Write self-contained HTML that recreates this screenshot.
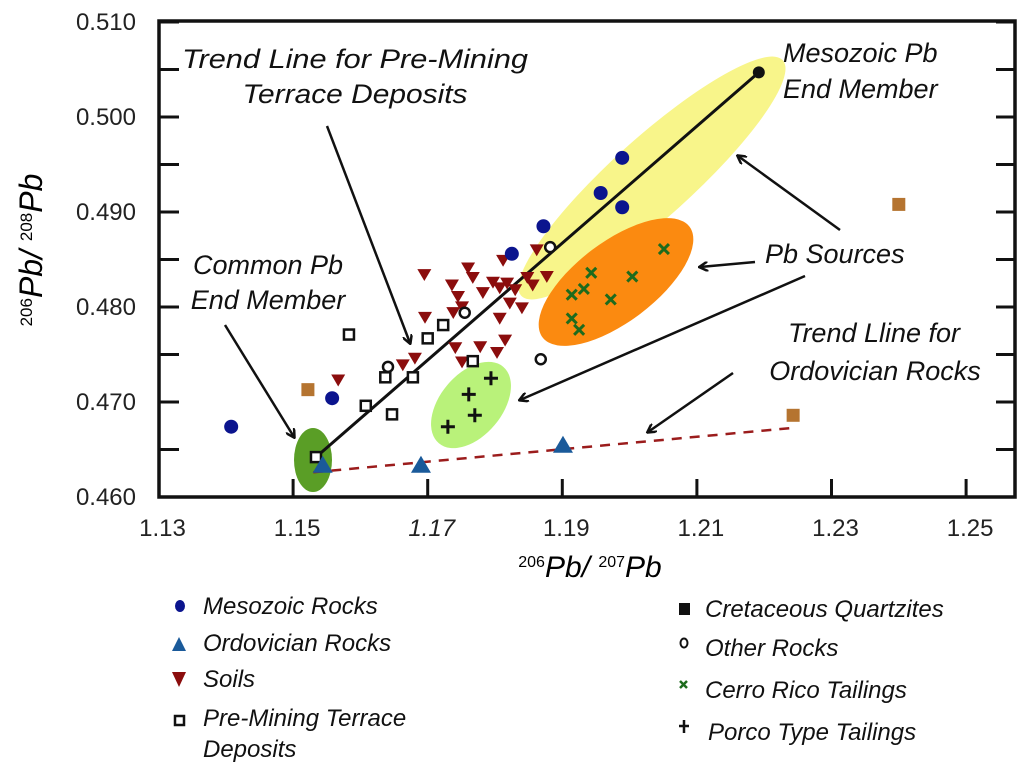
<!DOCTYPE html>
<html><head><meta charset="utf-8"><style>
html,body{margin:0;padding:0;background:#fff;}
svg{display:block;font-family:"Liberation Sans",sans-serif;}
.tk{font-size:24px;fill:#222;}
.an{font-size:27px;font-style:italic;fill:#111;}
.lg{font-size:24px;font-style:italic;fill:#111;}
</style></head><body>
<svg id="chart" width="1024" height="767" viewBox="0 0 1024 767">
<defs>
<marker id="ah" markerWidth="10" markerHeight="10" refX="8" refY="5" orient="auto" markerUnits="userSpaceOnUse">
<path d="M0,0 L9,5 L0,10" fill="none" stroke="#111" stroke-width="2.5"/></marker>
</defs>
<g id="bg"></g>
<g id="axes"></g>
<g id="marks"></g>
<g id="ann"></g>
<g id="legend"></g>
</svg>
<script>
const xTicks=[1.13,1.15,1.17,1.19,1.21,1.23,1.25];
const yTicks=[0.460,0.470,0.480,0.490,0.500,0.510];
const mesoX=[1.1408,1.1558,1.1825,1.1872,1.1957,1.1989,1.1989];
const mesoY=[0.4674,0.4704,0.4856,0.4885,0.4920,0.4957,0.4905];
const endX=[1.2192];const endY=[0.5047];
const cretX=[1.1522,1.2400,1.2243];
const cretY=[0.4713,0.4908,0.4686];
const ordX=[1.1544,1.1690,1.1901];
const ordY=[0.4634,0.4634,0.4655];
const sqX=[1.1583,1.1608,1.1637,1.1647,1.1678,1.1700,1.1723,1.1767,1.1534];
const sqY=[0.4771,0.4696,0.4726,0.4687,0.4726,0.4767,0.4781,0.4743,0.4642];
const ocX=[1.1641,1.1882,1.1868,1.1755];
const ocY=[0.4737,0.4863,0.4745,0.4794];
const soilX=[1.1695,1.1736,1.1760,1.1767,1.1745,1.1751,1.1738,1.1782,1.1797,1.1807,1.1818,1.1830,1.1822,1.1840,1.1848,1.1856,1.1877,1.1807,1.1815,1.1778,1.1803,1.1751,1.1741,1.1812,1.1862,1.1696,1.1663,1.1681,1.1567];
const soilY=[0.4834,0.4823,0.4841,0.4831,0.4811,0.4800,0.4794,0.4815,0.4826,0.4820,0.4825,0.4818,0.4804,0.4799,0.4831,0.4823,0.4832,0.4788,0.4765,0.4758,0.4752,0.4742,0.4757,0.4849,0.4860,0.4789,0.4739,0.4746,0.4723];
const crX=[1.2051,1.1943,1.2004,1.1932,1.1914,1.1972,1.1914,1.1925];
const crY=[0.4861,0.4836,0.4832,0.4819,0.4813,0.4808,0.4788,0.4776];
const pcX=[1.1794,1.1761,1.1770,1.1730];
const pcY=[0.4725,0.4708,0.4686,0.4674];
const trendX=[1.1534,1.2192];const trendY=[0.4642,0.5047];
const ordTrendX=[1.1530,1.2246];const ordTrendY=[0.4626,0.4673];

const NS="http://www.w3.org/2000/svg";
function X(v){return 158.5+(v-1.13)*6730;}
function Y(v){return 497-(v-0.46)*9500;}
function mk(tag,attrs,parent){const e=document.createElementNS(NS,tag);for(const k in attrs)e.setAttribute(k,attrs[k]);document.getElementById(parent).appendChild(e);return e;}

const ells=[["yellow-ellipse",652,178,176,40,-42,"#f8f58a"],["orange-ellipse",616,282,92,40,-37,"#fb8a10"],["light-green-ellipse",471,405,50,31,-50,"#b9f27a"],["dark-green-ellipse",313,460,19,32,0,"#5a9e26"]];
ells.forEach(a=>{const e=mk("ellipse",{cx:a[1],cy:a[2],rx:a[3],ry:a[4],transform:`rotate(${a[5]} ${a[1]} ${a[2]})`,fill:a[6]},"bg");

});

let fr=mk("rect",{x:159,y:21,width:856,height:476,fill:"none",stroke:"#111","stroke-width":3.5},"axes");


xTicks.forEach((t,i)=>{
 if(i>0){const l=mk("line",{x1:X(t),x2:X(t),y1:497,y2:479,stroke:"#111","stroke-width":3},"axes");
 
 }
 const tx=mk("text",{x:X(t)+4,y:536,"text-anchor":"middle",class:"tk"},"axes");tx.textContent=t.toFixed(2);
 if(i==2)tx.setAttribute("font-style","italic");
 
 
});
for(let v=0.465;v<0.5101;v+=0.005){
 const l=mk("line",{x1:159,x2:179,y1:Y(v),y2:Y(v),stroke:"#111","stroke-width":3},"axes");
 
 
 const r=mk("line",{x1:996,x2:1015,y1:Y(v),y2:Y(v),stroke:"#111","stroke-width":3},"axes");
 
 
}
yTicks.forEach(t=>{const tx=mk("text",{x:136,y:Y(t)+8,"text-anchor":"end",class:"tk"},"axes");tx.textContent=t.toFixed(3);
 
 });

let tl=mk("line",{x1:X(trendX[0]),y1:Y(trendY[0]),x2:X(trendX[1]),y2:Y(trendY[1]),stroke:"#111","stroke-width":3},"marks");


let ol=mk("line",{x1:X(ordTrendX[0]),y1:Y(ordTrendY[0]),x2:X(ordTrendX[1]),y2:Y(ordTrendY[1]),stroke:"#9b1c1c","stroke-width":2.5,"stroke-dasharray":"10,8"},"marks");



function circ(xs,ys,name,fill,r,stroke){xs.forEach((x,i)=>{const e=mk("circle",{cx:X(x),cy:Y(ys[i]),r:r,fill:fill,stroke:stroke||"none","stroke-width":2.5},"marks");
 
 });}
function sq(xs,ys,name,fill,s,stroke){xs.forEach((x,i)=>{const e=mk("rect",{x:X(x)-s/2,y:Y(ys[i])-s/2,width:s,height:s,fill:fill,stroke:stroke||"none","stroke-width":2.5},"marks");
 
 });}
function tri(xs,ys,name,fill,down,s){xs.forEach((x,i)=>{const cx=X(x),cy=Y(ys[i]);const p=down?`${cx-s},${cy-s*0.8} ${cx+s},${cy-s*0.8} ${cx},${cy+s*0.9}`:`${cx-s},${cy+s*0.8} ${cx+s},${cy+s*0.8} ${cx},${cy-s*0.9}`;
 const e=mk("polygon",{points:p,fill:fill},"marks");
 
 });}
function cross(xs,ys,name,col,diag,s){xs.forEach((x,i)=>{const cx=X(x),cy=Y(ys[i]);const d=diag?`M${cx-s},${cy-s}L${cx+s},${cy+s}M${cx-s},${cy+s}L${cx+s},${cy-s}`:`M${cx-s},${cy}L${cx+s},${cy}M${cx},${cy-s}L${cx},${cy+s}`;
 const e=mk("path",{d:d,stroke:col,"stroke-width":3,fill:"none"},"marks");
 
 });}
tri(soilX,soilY,"soil-point","#8b0d0d",true,7);
sq(sqX,sqY,"pre-mining-terrace-point","#fff",10,"#111");
circ(ocX,ocY,"other-rock-point","#fff",5,"#111");
circ(mesoX,mesoY,"mesozoic-rock-point","#0b148e",7);
circ(endX,endY,"mesozoic-end-member-point","#111",6);
sq(cretX,cretY,"cretaceous-quartzite-point","#b57430",13);
tri(ordX,ordY,"ordovician-rock-point","#1a5a9a",false,10);
cross(crX,crY,"cerro-rico-tailings-point","#1d6b1d",true,5);
cross(pcX,pcY,"porco-tailings-point","#111",false,7);

function txt(x,y,s,name,anchor,len){const t=mk("text",{x:x,y:y,class:"an","text-anchor":anchor||"start"},"ann");t.textContent=s;
 if(len){t.setAttribute("textLength",len);t.setAttribute("lengthAdjust","spacingAndGlyphs");}
 
 }
txt(355,68,"Trend Line for Pre-Mining","trend-pre-mining-label","middle",346);
txt(355,103,"Terrace Deposits","trend-pre-mining-label-2","middle",225);
txt(783,62,"Mesozoic Pb","mesozoic-end-member-label");
txt(783,98,"End Member","mesozoic-end-member-label-2");
txt(765,263,"Pb Sources","pb-sources-label");
txt(874,342,"Trend Lline for","ordovician-trend-label","middle");
txt(875,380,"Ordovician Rocks","ordovician-trend-label-2","middle");
txt(268,274,"Common Pb","common-pb-label","middle");
txt(268,309,"End Member","common-pb-label-2","middle");
const arrows=[[327,126,410,343],[225,325,294,437],[840,230,738,156],[755,262,700,267],[805,276,520,400],[733,373,648,432]];
arrows.forEach(a=>{const l=mk("line",{x1:a[0],y1:a[1],x2:a[2],y2:a[3],stroke:"#111","stroke-width":2.5,"marker-end":"url(#ah)"},"ann");
 
 });

let yt=mk("text",{transform:"translate(42,250) rotate(-90)","text-anchor":"middle",style:"font-size:32px;font-style:italic"},"axes");
yt.innerHTML='<tspan style="font-size:17px;font-style:normal" dy="-10">206</tspan><tspan dy="10">Pb/ </tspan><tspan style="font-size:17px;font-style:normal" dy="-10">208</tspan><tspan dy="10">Pb</tspan>';


let xt=mk("text",{x:590,y:577,"text-anchor":"middle",style:"font-size:30px;font-style:italic"},"axes");
xt.innerHTML='<tspan style="font-size:16px;font-style:normal" dy="-10">206</tspan><tspan dy="10">Pb/ </tspan><tspan style="font-size:16px;font-style:normal" dy="-10">207</tspan><tspan dy="10">Pb</tspan>';



function lgt(x,y,s,name){const t=mk("text",{x:x,y:y,class:"lg"},"legend");t.textContent=s;
 
 }
lgt(203,614,"Mesozoic Rocks","legend-mesozoic");
lgt(203,651,"Ordovician Rocks","legend-ordovician");
lgt(203,687,"Soils","legend-soils");
lgt(203,726,"Pre-Mining Terrace","legend-pre-mining");
lgt(203,757,"Deposits","legend-pre-mining-2");
lgt(705,617,"Cretaceous Quartzites","legend-cretaceous");
lgt(705,656,"Other Rocks","legend-other");
lgt(705,698,"Cerro Rico Tailings","legend-cerro-rico");
lgt(708,740,"Porco Type Tailings","legend-porco");
const lm=[
 ["ellipse",{cx:180,cy:606,rx:5,ry:6,fill:"#0b148e"}],
 ["polygon",{points:"172,651 186,651 179,637",fill:"#1a5a9a"}],
 ["polygon",{points:"172,672 186,672 179,687",fill:"#8b0d0d"}],
 ["rect",{x:175,y:716,width:9,height:9,fill:"#fff",stroke:"#111","stroke-width":2.5}],
 ["rect",{x:679,y:603,width:11,height:12,fill:"#111"}],
 ["ellipse",{cx:684,cy:643,rx:3.5,ry:4.5,fill:"#fff",stroke:"#111","stroke-width":2}],
 ["path",{d:"M680,681L687,688M680,688L687,681",stroke:"#1d6b1d","stroke-width":2.5}],
 ["path",{d:"M679,726L689,726M684,720L684,733",stroke:"#111","stroke-width":2.5}]];
lm.forEach(m=>{const e=mk(m[0],m[1],"legend");
 
 });
</script>
</body></html>
